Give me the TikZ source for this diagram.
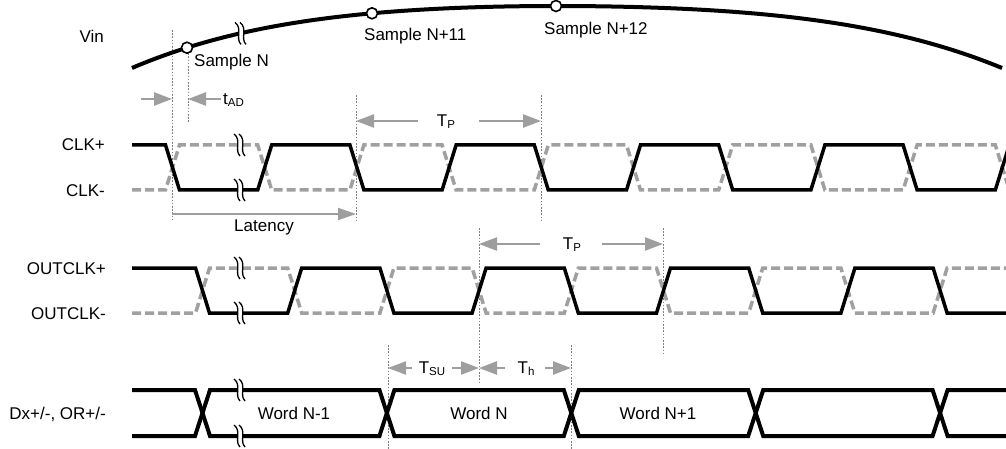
\documentclass[tikz,border=0pt]{standalone}
\usepackage{fontspec}
\setmainfont{Liberation Sans}
\usetikzlibrary{arrows.meta}
\definecolor{agray}{RGB}{158,158,158}
\definecolor{dgray}{RGB}{160,160,160}
\newcommand{\mysub}[1]{\raisebox{-0.3ex}{\fontsize{11.5}{13}\selectfont #1}}
\begin{document}
\begin{tikzpicture}[x=1pt,y=-1pt, font=\fontsize{17}{20}\selectfont,
  hi/.style={line width=3.5pt, black, line join=miter},
  lo/.style={line width=3.5pt, dgray, dash pattern=on 9pt off 4pt},
  bus/.style={line width=4pt, black, line join=miter},
  guide/.style={draw=gray, line width=0.8pt, dash pattern=on 1.6pt off 1.6pt},
  garrow/.style={draw=agray, line width=2.4pt, -{Triangle[length=18pt,width=13pt]}},
  txt/.style={inner sep=0pt, anchor=base, yshift=-6.1pt},
  txtw/.style={txt, anchor=base west},
  txte/.style={txt, anchor=base east},
  smp/.style={circle, draw, fill=white, line width=1.6pt, minimum size=11pt, inner sep=0pt},
  brk/.pic={
    \fill[white] (-5,-11) .. controls (3,-5) and (-5,5) .. (1,11) -- (6,11) .. controls (0,5) and (8,-5) .. (0,-11) -- cycle;
    \draw[line width=1.3pt] (-5,-11) .. controls (3,-5) and (-5,5) .. (1,11);
    \draw[line width=1.3pt] (0,-11) .. controls (8,-5) and (0,5) .. (6,11);
  }]
\path[use as bounding box] (0,0) rectangle (1006,449);
\begin{scope}
\clip (0,0) rectangle (1006,449);
% guide lines
\draw[guide] (172,30) -- (172,220);
\draw[guide] (188,50) -- (188,122);
\draw[guide] (356,95) -- (356,222);
\draw[guide] (541,95) -- (541,222);
\draw[guide] (479,228) -- (479,384);
\draw[guide] (663,228) -- (663,356);
\draw[guide] (388,345) -- (388,449);
\draw[guide] (571,345) -- (571,449);
% Vin curve
\draw[line width=4pt] plot[domain=132:1002, samples=120, smooth] (\x, {6 + ((\x<556)?1.16:1)*(1.607*((\x-556)/100)^2 + 0.0759*((\x-556)/100)^4)});
\pic at (240,33.4) {brk};
\node[smp] (sN) at (187,47.7) {};
\node[smp] (sN11) at (372,13.3) {};
\node[smp] (sN12) at (556,6) {};
% CLK
\draw[lo] (132,190) foreach \k in {0,2,4,6,8} { -- ({172.5+92.2*\k-7},190) -- ({172.5+92.2*\k+7},145) -- ({172.5+92.2*(\k+1)-7},145) -- ({172.5+92.2*(\k+1)+7},190) } -- (1020,190);
\draw[hi] (132,145) foreach \k in {0,2,4,6,8} { -- ({172.5+92.2*\k-7},145) -- ({172.5+92.2*\k+7},190) -- ({172.5+92.2*(\k+1)-7},190) -- ({172.5+92.2*(\k+1)+7},145) } -- (1020,145);
\pic at (239,145) {brk};
\pic at (239,190) {brk};
% OUTCLK
\draw[lo] (132,313) foreach \k in {0,2,4,6} { -- ({202.5+92.2*\k-7},313) -- ({202.5+92.2*\k+7},268) -- ({202.5+92.2*(\k+1)-7},268) -- ({202.5+92.2*(\k+1)+7},313) } -- ({202.5+92.2*8-7},313) -- ({202.5+92.2*8+7},268) -- (1020,268);
\draw[hi] (132,268) foreach \k in {0,2,4,6} { -- ({202.5+92.2*\k-7},268) -- ({202.5+92.2*\k+7},313) -- ({202.5+92.2*(\k+1)-7},313) -- ({202.5+92.2*(\k+1)+7},268) } -- ({202.5+92.2*8-7},268) -- ({202.5+92.2*8+7},313) -- (1020,313);
\pic at (239,268) {brk};
\pic at (239,313) {brk};
% data bus
\draw[bus] (132,390) foreach \j in {0,2} { -- ({202.5+184.4*\j-7.5},390) -- ({202.5+184.4*\j+7.5},436) -- ({202.5+184.4*(\j+1)-7.5},436) -- ({202.5+184.4*(\j+1)+7.5},390) } -- ({202.5+184.4*4-7.5},390) -- ({202.5+184.4*4+7.5},436) -- (1020,436);
\draw[bus] (132,436) foreach \j in {0,2} { -- ({202.5+184.4*\j-7.5},436) -- ({202.5+184.4*\j+7.5},390) -- ({202.5+184.4*(\j+1)-7.5},390) -- ({202.5+184.4*(\j+1)+7.5},436) } -- ({202.5+184.4*4-7.5},436) -- ({202.5+184.4*4+7.5},390) -- (1020,390);
\pic at (239,390) {brk};
\pic at (239,436) {brk};
% arrows
\coordinate (tadL) at (141,99); \coordinate (tadLe) at (172,99);
\coordinate (tadR) at (221,99); \coordinate (tadRe) at (188,99);
\draw[garrow] (tadL) -- (tadLe);
\draw[garrow] (tadR) -- (tadRe);
\node[txtw] (tad) at (223,98) {t\mysub{AD}};
\coordinate (tp1a) at (418,121); \coordinate (tp1ae) at (356,121);
\coordinate (tp1b) at (479,121); \coordinate (tp1be) at (541,121);
\draw[garrow] (tp1a) -- (tp1ae);
\draw[garrow] (tp1b) -- (tp1be);
\node[txt] (tp1) at (446,120) {T\mysub{P}};
\coordinate (latA) at (172,214); \coordinate (latB) at (356,214);
\draw[draw=agray, line width=2pt, -{Triangle[length=18pt,width=12pt]}] (latA) -- (latB);
\node[txt] (lat) at (264,225) {Latency};
\coordinate (tp2a) at (540,244); \coordinate (tp2ae) at (479,244);
\coordinate (tp2b) at (602,244); \coordinate (tp2be) at (663,244);
\draw[garrow] (tp2a) -- (tp2ae);
\draw[garrow] (tp2b) -- (tp2be);
\node[txt] (tp2) at (572,243) {T\mysub{P}};
\coordinate (tsuA) at (412,368); \coordinate (tsuAe) at (388,368);
\coordinate (tsuB) at (452,368); \coordinate (tsuBe) at (479,368);
\draw[garrow] (tsuA) -- (tsuAe);
\draw[garrow] (tsuB) -- (tsuBe);
\node[txt] (tsu) at (432,367) {T\mysub{SU}};
\coordinate (thA) at (505,368); \coordinate (thAe) at (479,368);
\coordinate (thB) at (545,368); \coordinate (thBe) at (571,368);
\draw[garrow] (thA) -- (thAe);
\draw[garrow] (thB) -- (thBe);
\node[txt] (th) at (526,367) {T\mysub{h}};
% texts
\node[txte] (vin) at (104,36) {Vin};
\node[txtw] (tN) at (194,60) {Sample N};
\node[txtw] (tN11) at (364,34) {Sample N+11};
\node[txtw] (tN12) at (544,28) {Sample N+12};
\node[txte] (clkp) at (105,144) {CLK+};
\node[txte] (clkm) at (105,190) {CLK-};
\node[txte] (oclkp) at (106,268) {OUTCLK+};
\node[txte] (oclkm) at (106,313) {OUTCLK-};
\node[txte] (dx) at (106,413) {Dx+/-, OR+/-};
\node[txt] (w1) at (294,413) {Word N-1};
\node[txt] (w2) at (479,413) {Word N};
\node[txt] (w3) at (658,413) {Word N+1};
\end{scope}
\end{tikzpicture}
\end{document}
